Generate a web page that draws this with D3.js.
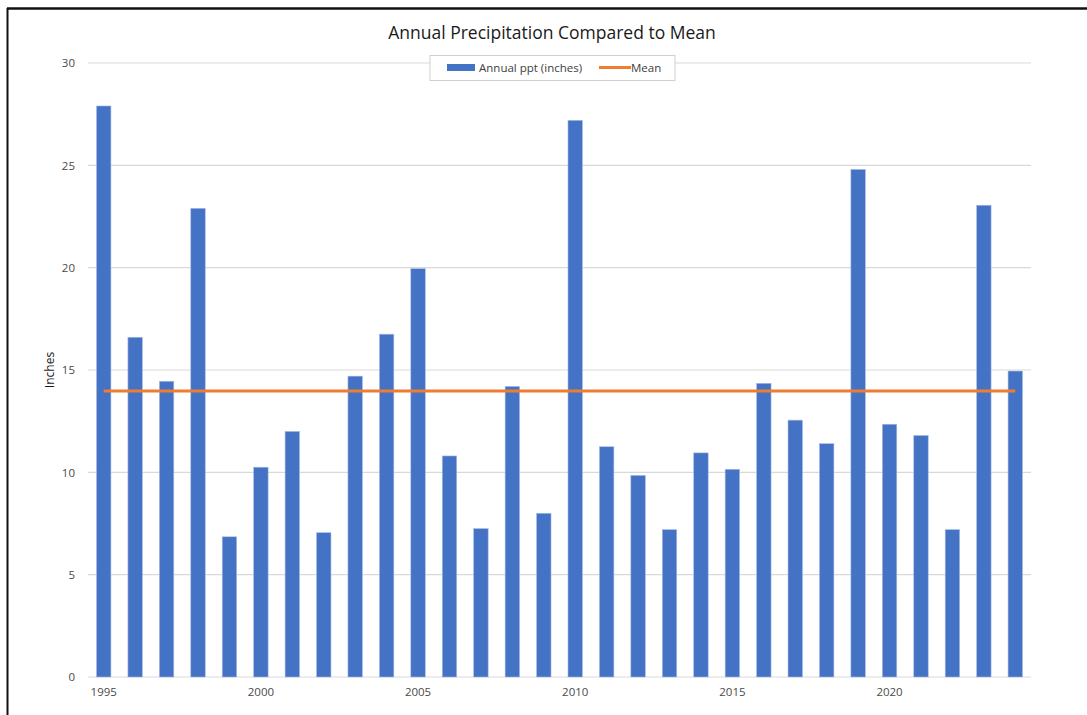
<!DOCTYPE html>
<html>
<head>
<meta charset="utf-8">
<script src="https://cdn.jsdelivr.net/npm/d3@7"></script>
<style>
	body { margin: 0; background: #fff; }
	svg { display: block; }
</style>
</head>
<body>
<script>
// data
var years = [1995, 1996, 1997, 1998, 1999, 2000, 2001, 2002, 2003, 2004,
	2005, 2006, 2007, 2008, 2009, 2010, 2011, 2012, 2013, 2014,
	2015, 2016, 2017, 2018, 2019, 2020, 2021, 2022, 2023, 2024];
var annualPpt = [27.9, 16.6, 14.45, 22.9, 6.85, 10.25, 12.0, 7.05, 14.7, 16.75,
	19.95, 10.8, 7.25, 14.2, 8.0, 27.2, 11.25, 9.85, 7.2, 10.95,
	10.15, 14.35, 12.55, 11.4, 24.8, 12.35, 11.8, 7.2, 23.05, 14.95];
var meanValue = 13.98;
var yTicks = [0, 5, 10, 15, 20, 25, 30];
var xTickYears = [1995, 2000, 2005, 2010, 2015, 2020];

var W = 1087, H = 715;
var fontFam = "'Open Sans', 'Liberation Sans', sans-serif";

var svg = d3.select("body").append("svg")
	.attr("width", W)
	.attr("height", H);

svg.append('rect')
	.attr('width', W)
	.attr('height', H)
	.style('fill', '#fff');

// frame of the screenshot (top and left edges only)
svg.append('line')
	.attr('x1', 7).attr('x2', W)
	.attr('y1', 8.5).attr('y2', 8.5)
	.attr('stroke', '#111').attr('stroke-width', 2.5);
svg.append('line')
	.attr('x1', 7.5).attr('x2', 7.5)
	.attr('y1', 8).attr('y2', H)
	.attr('stroke', '#111').attr('stroke-width', 2);

var plot = { left: 88, right: 1031, top: 63, bottom: 677 };

var x = d3.scaleBand()
	.domain(years)
	.range([plot.left, plot.right])
	.paddingInner(0.54)
	.paddingOuter(0.27);

var y = d3.scaleLinear()
	.domain([0, 30])
	.range([plot.bottom, plot.top]);

/*
/	GRIDLINES
*/
svg.append('g').selectAll('line').data(yTicks).enter()
	.append('line')
	.attr('x1', plot.left)
	.attr('x2', plot.right)
	.attr('y1', function(d){ return y(d); })
	.attr('y2', function(d){ return y(d); })
	.attr('stroke', '#d9d9d9')
	.attr('stroke-width', 1.2);

/*
/	Y AXIS LABELS
*/
var yAxis = d3.axisLeft(y).tickValues(yTicks).tickSize(0).tickPadding(13);
var gy = svg.append('g')
	.attr('transform', 'translate(' + plot.left + ',0)')
	.call(yAxis);
gy.select('.domain').remove();
gy.selectAll('text')
	.attr('font-family', fontFam)
	.attr('font-size', '11.5px')
	.attr('fill', '#4a4a4a');

/*
/	BARS
*/
svg.append('g').selectAll('rect').data(annualPpt).enter()
	.append('rect')
	.attr('x', function(d, i){ return x(years[i]); })
	.attr('y', function(d){ return y(d); })
	.attr('width', x.bandwidth())
	.attr('height', function(d){ return y(0) - y(d); })
	.style('fill', '#4472C4')
	.attr('stroke', '#a9bde3')
	.attr('stroke-width', 0.6);

/*
/	MEAN LINE
*/
var meanData = years.map(function(yr){ return { year: yr, v: meanValue }; });
var meanLine = d3.line()
	.x(function(d){ return x(d.year) + x.bandwidth() / 2; })
	.y(function(d){ return y(d.v); });
svg.append('path')
	.datum(meanData)
	.attr('d', meanLine)
	.attr('fill', 'none')
	.attr('stroke', '#ED7D31')
	.attr('stroke-width', 3);

/*
/	X AXIS LABELS
*/
var xAxis = d3.axisBottom(x).tickValues(xTickYears).tickSize(0).tickPadding(11);
var gx = svg.append('g')
	.attr('transform', 'translate(0,' + plot.bottom + ')')
	.call(xAxis);
gx.select('.domain').remove();
gx.selectAll('text')
	.attr('font-family', fontFam)
	.attr('font-size', '11.5px')
	.attr('fill', '#4a4a4a');

/*
/	TITLES
*/
svg.append('text')
	.attr('x', 552)
	.attr('y', 39)
	.attr('text-anchor', 'middle')
	.attr('font-family', fontFam)
	.attr('font-size', '17.5px')
	.attr('fill', '#1a1a1a')
	.text('Annual Precipitation Compared to Mean');

svg.append('text')
	.attr('transform', 'translate(54,' + ((plot.top + plot.bottom) / 2) + ') rotate(-90)')
	.attr('text-anchor', 'middle')
	.attr('font-family', fontFam)
	.attr('font-size', '12px')
	.attr('fill', '#1a1a1a')
	.text('Inches');

/*
/	LEGEND
*/
var legend = svg.append('g');
legend.append('rect')
	.attr('x', 430).attr('y', 55.5)
	.attr('width', 245).attr('height', 25)
	.style('fill', '#fff')
	.attr('stroke', '#d0d0d0')
	.attr('stroke-width', 1);
legend.append('rect')
	.attr('x', 447).attr('y', 64)
	.attr('width', 28).attr('height', 7)
	.style('fill', '#4472C4');
legend.append('text')
	.attr('x', 479).attr('y', 72)
	.attr('font-family', fontFam)
	.attr('font-size', '11.5px')
	.attr('fill', '#404040')
	.text('Annual ppt (inches)');
legend.append('line')
	.attr('x1', 599).attr('x2', 631)
	.attr('y1', 67.5).attr('y2', 67.5)
	.attr('stroke', '#ED7D31')
	.attr('stroke-width', 3);
legend.append('text')
	.attr('x', 631).attr('y', 72)
	.attr('font-family', fontFam)
	.attr('font-size', '11.5px')
	.attr('fill', '#404040')
	.text('Mean');
</script>
</body>
</html>
